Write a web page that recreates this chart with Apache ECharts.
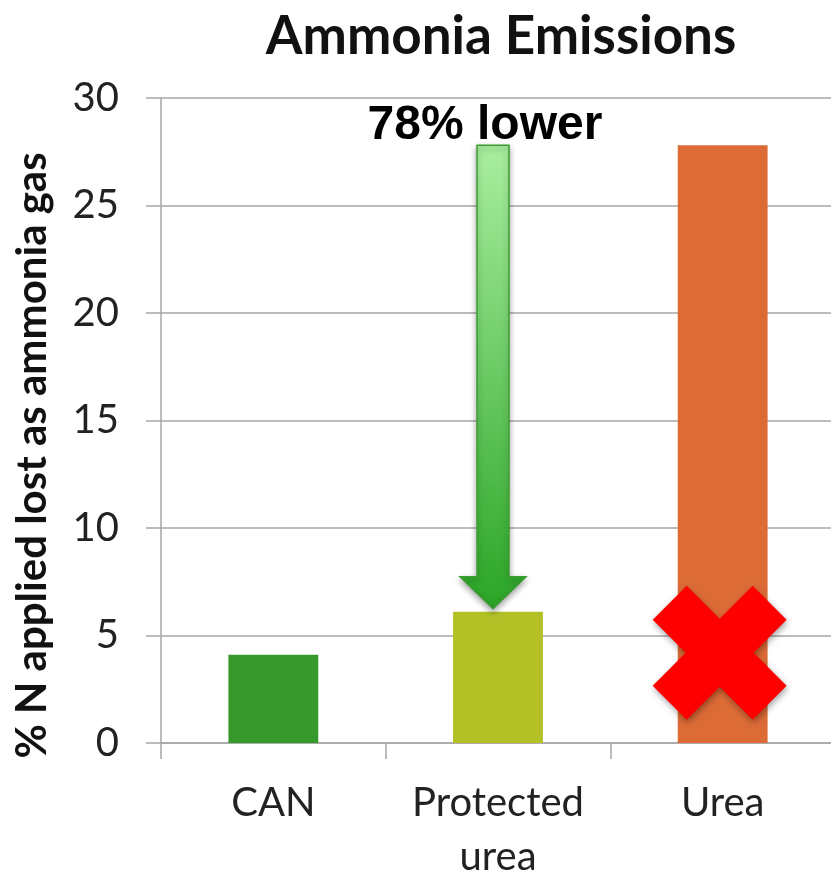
<!DOCTYPE html>
<html><head><meta charset="utf-8">
<script src="https://cdn.jsdelivr.net/npm/echarts@6/dist/echarts.min.js"></script>
<style>html,body{margin:0;padding:0;background:#fff}#c{width:831px;height:883px}</style>
</head><body><div id="c"></div>
<script>
const categories = ['CAN', 'Protected\nurea', 'Urea'];
const values = [4.1, 6.1, 27.8];
const barColors = ['#37982c', '#b3c127', '#dc6b36'];
const yTicks = [0, 5, 10, 15, 20, 25, 30];
const arrowTopValue = 27.8;
const arrowTipValue = 6.25;
const crossValue = 4.2;
const annotationText = '78% lower';

const chart = echarts.init(document.getElementById('c'), null, {renderer: 'canvas'});
const grid = {left: 161, right: -4, top: 98, bottom: 140, outerBoundsMode: 'none', containLabel: false};
const option = {
  animation: false,
  title: {
    text: 'Ammonia Emissions', left: 496, top: 5, textAlign: 'center',
    textStyle: {fontFamily: 'Lato', fontWeight: 'bold', fontSize: 53, color: '#111'}
  },
  grid: grid,
  xAxis: {
    type: 'category', data: categories,
    axisLine: {lineStyle: {color: '#a6a6a6', width: 1.5}},
    axisTick: {show: true, length: 16, lineStyle: {color: '#a6a6a6', width: 1.5}},
    axisLabel: {fontFamily: 'Lato', fontSize: 40, color: '#222', margin: 33, lineHeight: 54}
  },
  yAxis: {
    type: 'value', min: yTicks[0], max: yTicks[yTicks.length - 1], interval: 5,
    name: '% N applied lost as ammonia gas', nameLocation: 'middle', nameGap: 108,
    nameTextStyle: {fontFamily: 'Lato', fontWeight: 'bold', fontSize: 42, color: '#111', padding: [0, 70, 0, 0]},
    axisLine: {show: true, lineStyle: {color: '#a6a6a6', width: 1.5}},
    axisTick: {show: true, length: 15, lineStyle: {color: '#a6a6a6', width: 1.5}},
    splitLine: {lineStyle: {color: '#a6a6a6', width: 1.5}},
    axisLabel: {fontFamily: 'Lato', fontSize: 40, color: '#222', margin: 42}
  },
  series: [{
    type: 'bar', barWidth: '40%',
    data: values.map((v, i) => ({value: v, itemStyle: {color: barColors[i]}}))
  }]
};
chart.setOption(option);

function drawOverlays() {
  const top = chart.convertToPixel({gridIndex: 0}, [1, arrowTopValue]);
  const tip = chart.convertToPixel({gridIndex: 0}, [1, arrowTipValue]);
  const cx = top[0] - 5;
  const headH = 32, headHalf = 33, shaftHalf = 16;
  const arrowPts = [
    [cx - shaftHalf, top[1]], [cx + shaftHalf, top[1]],
    [cx + shaftHalf, tip[1] - headH], [cx + headHalf, tip[1] - headH],
    [cx, tip[1]], [cx - headHalf, tip[1] - headH], [cx - shaftHalf, tip[1] - headH]
  ];
  const cross = chart.convertToPixel({gridIndex: 0}, [2, crossValue]);
  const xx = cross[0] - 3, yy = cross[1];
  const a = 67, b = 33, n = 34;
  const crossPts = [[-b,-a],[0,-n],[b,-a],[a,-b],[n,0],[a,b],[b,a],[0,n],[-b,a],[-a,b],[-n,0],[-a,-b]]
    .map(p => [xx + p[0], yy + p[1]]);
  chart.setOption({
    graphic: [
      {type: 'polygon', shape: {points: arrowPts}, z: 10,
       style: {fill: new echarts.graphic.LinearGradient(0, 0, 0, 1, [
         {offset: 0, color: '#a9ee9f'}, {offset: 1, color: '#2aa526'}]),
         stroke: '#3b9d31', lineWidth: 1.5,
         shadowBlur: 6, shadowColor: 'rgba(0,0,0,0.35)', shadowOffsetY: 3}},
      {type: 'text', x: cx - 8, y: top[1] - 20, z: 11,
       style: {text: annotationText, fontFamily: 'Liberation Sans', fontWeight: 'bold', fontSize: 48,
               fill: '#000', align: 'center', verticalAlign: 'middle'}},
      {type: 'polygon', shape: {points: crossPts}, z: 10,
       style: {fill: '#fe0000', shadowBlur: 6, shadowColor: 'rgba(0,0,0,0.35)', shadowOffsetY: 3, shadowOffsetX: 1}}
    ]
  });
}
drawOverlays();
</script>
</body></html>
